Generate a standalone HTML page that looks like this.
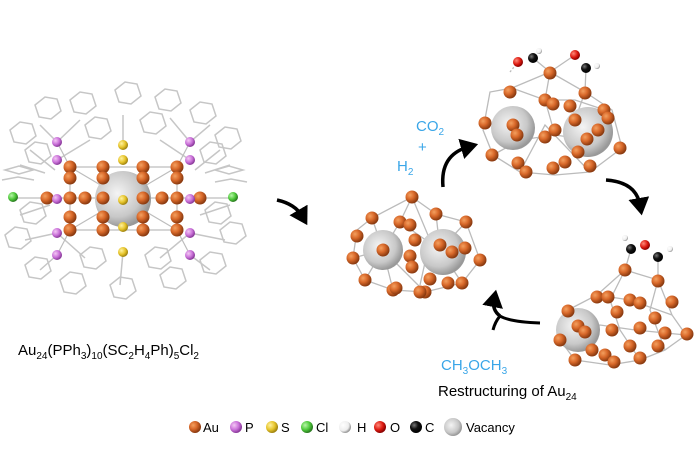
<!DOCTYPE html>
<html><head><meta charset="utf-8"><style>
html,body{margin:0;padding:0;background:#fff;width:700px;height:471px;overflow:hidden}
svg{display:block}
text{font-family:"Liberation Sans",Arial,sans-serif}
</style></head><body>
<svg width="700" height="471" viewBox="0 0 700 471" xmlns="http://www.w3.org/2000/svg">
<defs>
<radialGradient id="au" cx="35%" cy="35%" r="65%"><stop offset="0" stop-color="#f3a060"/><stop offset="0.5" stop-color="#d9692a"/><stop offset="1" stop-color="#8a3a10"/></radialGradient>
<radialGradient id="p" cx="35%" cy="35%" r="65%"><stop offset="0" stop-color="#f4c8f4"/><stop offset="0.6" stop-color="#c970d8"/><stop offset="1" stop-color="#8a3a9a"/></radialGradient>
<radialGradient id="s" cx="35%" cy="35%" r="65%"><stop offset="0" stop-color="#fff2a0"/><stop offset="0.6" stop-color="#e6c42a"/><stop offset="1" stop-color="#a08410"/></radialGradient>
<radialGradient id="cl" cx="35%" cy="35%" r="65%"><stop offset="0" stop-color="#b8f5a8"/><stop offset="0.6" stop-color="#4ec93a"/><stop offset="1" stop-color="#2a7a20"/></radialGradient>
<radialGradient id="o" cx="35%" cy="35%" r="65%"><stop offset="0" stop-color="#ff8a7a"/><stop offset="0.6" stop-color="#dd1a10"/><stop offset="1" stop-color="#880000"/></radialGradient>
<radialGradient id="c" cx="35%" cy="35%" r="65%"><stop offset="0" stop-color="#777"/><stop offset="0.5" stop-color="#111"/><stop offset="1" stop-color="#000"/></radialGradient>
<radialGradient id="h" cx="35%" cy="35%" r="65%"><stop offset="0" stop-color="#fff"/><stop offset="0.7" stop-color="#eee"/><stop offset="1" stop-color="#999"/></radialGradient>
<radialGradient id="v" cx="40%" cy="40%" r="60%"><stop offset="0" stop-color="#f4f4f4"/><stop offset="0.7" stop-color="#c8c8c8"/><stop offset="1" stop-color="#999"/></radialGradient>
<marker id="ah" markerWidth="6" markerHeight="6" refX="2" refY="3" orient="auto" markerUnits="strokeWidth"><path d="M0,0 L5,3 L0,6 z" fill="#000"/></marker>
</defs>

<g fill="none" stroke="#c6c6c6" stroke-width="1.5">
<path d="M10,130 l10,-8 l12,2 l4,12 l-10,8 l-12,-2z"/>
<path d="M35,105 l10,-8 l12,2 l4,12 l-10,8 l-12,-2z"/>
<path d="M70,100 l10,-8 l12,2 l4,12 l-10,8 l-12,-2z"/>
<path d="M115,90 l10,-8 l12,2 l4,12 l-10,8 l-12,-2z"/>
<path d="M155,97 l10,-8 l12,2 l4,12 l-10,8 l-12,-2z"/>
<path d="M190,110 l10,-8 l12,2 l4,12 l-10,8 l-12,-2z"/>
<path d="M215,135 l10,-8 l12,2 l4,12 l-10,8 l-12,-2z"/>
<path d="M85,125 l10,-8 l12,2 l4,12 l-10,8 l-12,-2z"/>
<path d="M140,120 l10,-8 l12,2 l4,12 l-10,8 l-12,-2z"/>
<path d="M25,150 l10,-8 l12,2 l4,12 l-10,8 l-12,-2z"/>
<path d="M200,150 l10,-8 l12,2 l4,12 l-10,8 l-12,-2z"/>
<path d="M5,170 l14,-4 l14,4 l-14,4z M2,180 l16,-3 l16,3 M20,165 l25,8"/>
<path d="M215,170 l14,-4 l14,4 l-14,4z M215,182 l16,-3 l16,3 M205,173 l25,-8"/>
<path d="M5,235 l10,-8 l12,2 l4,12 l-10,8 l-12,-2z"/>
<path d="M25,265 l10,-8 l12,2 l4,12 l-10,8 l-12,-2z"/>
<path d="M60,280 l10,-8 l12,2 l4,12 l-10,8 l-12,-2z"/>
<path d="M110,285 l10,-8 l12,2 l4,12 l-10,8 l-12,-2z"/>
<path d="M160,275 l10,-8 l12,2 l4,12 l-10,8 l-12,-2z"/>
<path d="M200,260 l10,-8 l12,2 l4,12 l-10,8 l-12,-2z"/>
<path d="M220,230 l10,-8 l12,2 l4,12 l-10,8 l-12,-2z"/>
<path d="M80,255 l10,-8 l12,2 l4,12 l-10,8 l-12,-2z"/>
<path d="M145,255 l10,-8 l12,2 l4,12 l-10,8 l-12,-2z"/>
<path d="M20,210 l10,-8 l12,2 l4,12 l-10,8 l-12,-2z"/>
<path d="M205,210 l10,-8 l12,2 l4,12 l-10,8 l-12,-2z"/>
<path d="M57,142 L40,125 M57,142 L80,120 M190,142 L170,118 M190,142 L210,125 M123,145 L123,115 M57,255 L40,270 M190,255 L210,270 M123,252 L120,285 M57,233 L25,240 M190,233 L225,240"/>
<path d="M20,215 l30,-10 M200,215 l30,-10 M30,150 l25,20 M195,170 l25,-20 M57,160 L90,140 M190,160 L160,140 M57,233 L85,258 M190,233 L160,258"/>
</g>
<g stroke="#bdbdbd" stroke-width="1.2">
<path d="M13,198 H233 M70,167 V230 M103,167 V230 M143,167 V230 M177,167 V230 M70,167 H177 M70,230 H177 M70,167 L177,230 M177,167 L70,230 M57,142 L70,167 M190,142 L177,167 M57,255 L70,230 M190,255 L177,230"/>
</g>
<circle cx="123" cy="199" r="28" fill="url(#v)"/>
<g fill="url(#au)">
<circle cx="70" cy="167" r="6.5"/><circle cx="70" cy="178" r="6.5"/><circle cx="70" cy="217" r="6.5"/><circle cx="70" cy="230" r="6.5"/>
<circle cx="103" cy="167" r="6.5"/><circle cx="103" cy="178" r="6.5"/><circle cx="103" cy="217" r="6.5"/><circle cx="103" cy="230" r="6.5"/>
<circle cx="143" cy="167" r="6.5"/><circle cx="143" cy="178" r="6.5"/><circle cx="143" cy="217" r="6.5"/><circle cx="143" cy="230" r="6.5"/>
<circle cx="177" cy="167" r="6.5"/><circle cx="177" cy="178" r="6.5"/><circle cx="177" cy="217" r="6.5"/><circle cx="177" cy="230" r="6.5"/>
<circle cx="47" cy="198" r="6.5"/><circle cx="70" cy="198" r="6.5"/><circle cx="85" cy="198" r="6.5"/><circle cx="103" cy="198" r="6.5"/>
<circle cx="143" cy="198" r="6.5"/><circle cx="162" cy="198" r="6.5"/><circle cx="177" cy="198" r="6.5"/><circle cx="200" cy="198" r="6.5"/>
</g>
<g fill="url(#p)">
<circle cx="57" cy="142" r="5"/><circle cx="57" cy="160" r="5"/><circle cx="57" cy="199" r="5"/><circle cx="57" cy="233" r="5"/><circle cx="57" cy="255" r="5"/>
<circle cx="190" cy="142" r="5"/><circle cx="190" cy="160" r="5"/><circle cx="190" cy="199" r="5"/><circle cx="190" cy="233" r="5"/><circle cx="190" cy="255" r="5"/>
</g>
<g fill="url(#s)">
<circle cx="123" cy="145" r="5"/><circle cx="123" cy="160" r="5"/><circle cx="123" cy="200" r="5"/><circle cx="123" cy="227" r="5"/><circle cx="123" cy="252" r="5"/>
</g>
<circle cx="13" cy="197" r="5" fill="url(#cl)"/><circle cx="233" cy="197" r="5" fill="url(#cl)"/>

<text x="18" y="355" font-size="15" fill="#000">Au<tspan font-size="10" dy="4">24</tspan><tspan dy="-4">(PPh</tspan><tspan font-size="10" dy="4">3</tspan><tspan dy="-4">)</tspan><tspan font-size="10" dy="4">10</tspan><tspan dy="-4">(SC</tspan><tspan font-size="10" dy="4">2</tspan><tspan dy="-4">H</tspan><tspan font-size="10" dy="4">4</tspan><tspan dy="-4">Ph)</tspan><tspan font-size="10" dy="4">5</tspan><tspan dy="-4">Cl</tspan><tspan font-size="10" dy="4">2</tspan></text>

<path d="M277,200 Q295,204 302,216" fill="none" stroke="#000" stroke-width="3.5" marker-end="url(#ah)"/>

<g stroke="#bbb" stroke-width="1.3" fill="none">
<path d="M357,230 L372,218 L412,197 L436,214 L466,222 L480,260 L462,283 L425,292 L393,290 L365,280 L353,258z M412,197 L400,222 L383,250 L365,280 M412,197 L430,240 L420,285 M372,218 L383,250 L393,290 M436,214 L440,250 L462,283 M400,222 L440,250 M353,258 L383,250 L425,292 M466,222 L440,250"/>
</g>
<circle cx="383" cy="250" r="20" fill="url(#v)"/><circle cx="443" cy="252" r="23" fill="url(#v)"/>
<g fill="url(#au)">
<circle cx="412" cy="197" r="6.5"/><circle cx="372" cy="218" r="6.5"/><circle cx="357" cy="236" r="6.5"/><circle cx="353" cy="258" r="6.5"/><circle cx="365" cy="280" r="6.5"/>
<circle cx="393" cy="290" r="6.5"/><circle cx="425" cy="292" r="6.5"/><circle cx="462" cy="283" r="6.5"/><circle cx="480" cy="260" r="6.5"/><circle cx="466" cy="222" r="6.5"/>
<circle cx="436" cy="214" r="6.5"/><circle cx="400" cy="222" r="6.5"/><circle cx="410" cy="225" r="6.5"/><circle cx="383" cy="250" r="6.5"/><circle cx="410" cy="256" r="6.5"/>
<circle cx="412" cy="267" r="6.5"/><circle cx="440" cy="245" r="6.5"/><circle cx="452" cy="252" r="6.5"/><circle cx="465" cy="248" r="6.5"/><circle cx="430" cy="279" r="6.5"/>
<circle cx="448" cy="283" r="6.5"/><circle cx="396" cy="288" r="6.5"/><circle cx="420" cy="292" r="6.5"/><circle cx="415" cy="240" r="6.5"/>
</g>

<g stroke="#bbb" stroke-width="1.3" fill="none">
<path d="M490,92 L483,130 L493,155 L520,172 L555,175 L590,172 L622,148 L612,110 L585,92 L550,72 L512,88z M550,72 L545,100 L555,135 M585,92 L575,120 M512,88 L545,100 L575,100 L605,110 M520,172 L545,125 L590,172 M493,155 L520,140 L555,135 L590,140"/>
<path d="M510,72 L518,62" stroke-dasharray="2,2"/>
<path d="M550,72 L533,58 M550,72 L575,55 M585,92 L586,68"/>
</g>
<circle cx="513" cy="128" r="22" fill="url(#v)"/><circle cx="588" cy="132" r="25" fill="url(#v)"/>
<g fill="url(#au)">
<circle cx="550" cy="73" r="6.5"/><circle cx="585" cy="93" r="6.5"/><circle cx="510" cy="92" r="6.5"/><circle cx="545" cy="100" r="6.5"/><circle cx="553" cy="104" r="6.5"/>
<circle cx="570" cy="106" r="6.5"/><circle cx="604" cy="110" r="6.5"/><circle cx="575" cy="120" r="6.5"/><circle cx="513" cy="125" r="6.5"/><circle cx="517" cy="135" r="6.5"/>
<circle cx="545" cy="137" r="6.5"/><circle cx="555" cy="130" r="6.5"/><circle cx="587" cy="139" r="6.5"/><circle cx="598" cy="130" r="6.5"/><circle cx="620" cy="148" r="6.5"/>
<circle cx="492" cy="155" r="6.5"/><circle cx="518" cy="163" r="6.5"/><circle cx="526" cy="172" r="6.5"/><circle cx="553" cy="168" r="6.5"/><circle cx="565" cy="162" r="6.5"/>
<circle cx="590" cy="166" r="6.5"/><circle cx="578" cy="152" r="6.5"/><circle cx="485" cy="123" r="6.5"/><circle cx="608" cy="118" r="6.5"/>
</g>
<circle cx="518" cy="62" r="5" fill="url(#o)"/><circle cx="533" cy="58" r="5" fill="url(#c)"/><circle cx="539" cy="51" r="3" fill="url(#h)"/>
<circle cx="575" cy="55" r="5" fill="url(#o)"/><circle cx="586" cy="68" r="5" fill="url(#c)"/><circle cx="597" cy="66" r="3" fill="url(#h)"/>

<g stroke="#bbb" stroke-width="1.3" fill="none">
<path d="M625,270 L597,295 L568,310 L560,340 L575,360 L610,365 L640,360 L665,350 L686,335 L672,315 L658,280z M625,270 L610,300 L620,330 L640,360 M658,280 L650,310 L665,350 M597,295 L630,300 L672,315 M568,330 L600,325 L635,330 L686,335 M625,270 L631,249 M658,280 L658,257"/>
</g>
<circle cx="578" cy="330" r="22" fill="url(#v)"/>
<g fill="url(#au)">
<circle cx="625" cy="270" r="6.5"/><circle cx="658" cy="281" r="6.5"/><circle cx="597" cy="297" r="6.5"/><circle cx="608" cy="297" r="6.5"/><circle cx="630" cy="300" r="6.5"/>
<circle cx="640" cy="303" r="6.5"/><circle cx="672" cy="302" r="6.5"/><circle cx="568" cy="311" r="6.5"/><circle cx="617" cy="312" r="6.5"/><circle cx="655" cy="318" r="6.5"/>
<circle cx="578" cy="326" r="6.5"/><circle cx="585" cy="332" r="6.5"/><circle cx="612" cy="330" r="6.5"/><circle cx="640" cy="328" r="6.5"/><circle cx="665" cy="333" r="6.5"/>
<circle cx="687" cy="334" r="6.5"/><circle cx="560" cy="340" r="6.5"/><circle cx="592" cy="350" r="6.5"/><circle cx="605" cy="355" r="6.5"/><circle cx="630" cy="346" r="6.5"/>
<circle cx="658" cy="346" r="6.5"/><circle cx="575" cy="360" r="6.5"/><circle cx="614" cy="362" r="6.5"/><circle cx="640" cy="358" r="6.5"/>
</g>
<circle cx="625" cy="238" r="3" fill="url(#h)"/><circle cx="631" cy="249" r="5" fill="url(#c)"/><circle cx="645" cy="245" r="5" fill="url(#o)"/>
<circle cx="658" cy="257" r="5" fill="url(#c)"/><circle cx="670" cy="249" r="3" fill="url(#h)"/>

<path d="M443,187 Q440,155 468,147" fill="none" stroke="#000" stroke-width="3.5" marker-end="url(#ah)"/>
<path d="M606,180 Q636,182 640,205" fill="none" stroke="#000" stroke-width="3.5" marker-end="url(#ah)"/>
<path d="M540,323 Q510,322 500,316 M500,316 Q495,322 493,330" fill="none" stroke="#000" stroke-width="3"/>
<path d="M500,316 Q492,310 494,300" fill="none" stroke="#000" stroke-width="3.5" marker-end="url(#ah)"/>

<g fill="#3aa6e8" font-size="15">
<text x="416" y="131">CO<tspan font-size="10" dy="4">2</tspan></text>
<text x="418" y="152">+</text>
<text x="397" y="171">H<tspan font-size="10" dy="4">2</tspan></text>
<text x="441" y="370">CH<tspan font-size="10" dy="4">3</tspan><tspan dy="-4">OCH</tspan><tspan font-size="10" dy="4">3</tspan></text>
</g>
<text x="438" y="396" font-size="15" fill="#000">Restructuring of Au<tspan font-size="10" dy="4">24</tspan></text>

<circle cx="195" cy="427" r="6" fill="url(#au)"/><text x="203" y="432" font-size="13">Au</text>
<circle cx="236" cy="427" r="6" fill="url(#p)"/><text x="245" y="432" font-size="13">P</text>
<circle cx="272" cy="427" r="6" fill="url(#s)"/><text x="281" y="432" font-size="13">S</text>
<circle cx="307" cy="427" r="6" fill="url(#cl)"/><text x="316" y="432" font-size="13">Cl</text>
<circle cx="345" cy="427" r="6" fill="url(#h)"/><text x="357" y="432" font-size="13">H</text>
<circle cx="380" cy="427" r="6" fill="url(#o)"/><text x="390" y="432" font-size="13">O</text>
<circle cx="416" cy="427" r="6" fill="url(#c)"/><text x="425" y="432" font-size="13">C</text>
<circle cx="453" cy="427" r="9" fill="url(#v)"/><text x="466" y="432" font-size="13">Vacancy</text>
</svg>
</body></html>
